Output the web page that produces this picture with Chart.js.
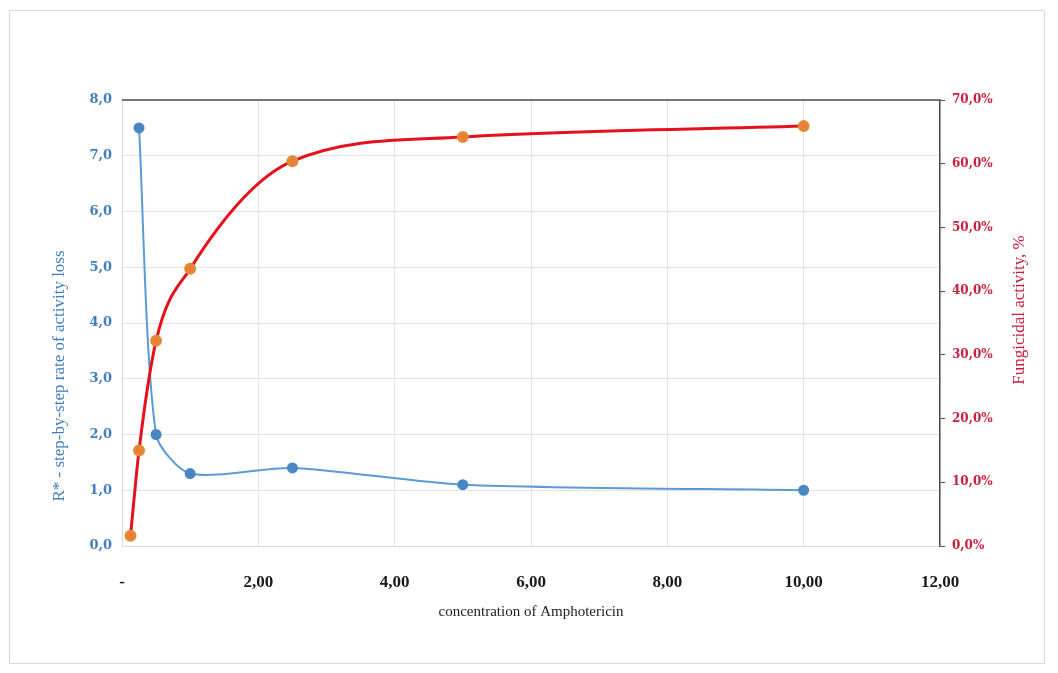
<!DOCTYPE html>
<html>
<head>
<meta charset="utf-8">
<script src="https://cdn.jsdelivr.net/npm/chart.js@4/dist/chart.umd.min.js"></script>
<style>
  body { margin: 0; background: #fff; }
  #wrap { position: relative; width: 1058px; height: 673px; }
  #frame { position: absolute; left: 9px; top: 10px; width: 1036px; height: 654px; border: 1px solid #d9d9d9; box-sizing: border-box; pointer-events: none; }
</style>
</head>
<body>
<div id="wrap">
  <canvas id="chart" width="1058" height="673"></canvas>
  <div id="frame"></div>
</div>
<script>
// concentrations of Amphotericin
const concRate = [0.25, 0.5, 1, 2.5, 5, 10];
const rateValues = [7.5, 2.0, 1.3, 1.4, 1.1, 1.0];

const concActivity = [0.125, 0.25, 0.5, 1, 2.5, 5, 10];
const activityValues = [1.6, 15.0, 32.2, 43.5, 60.4, 64.2, 65.9]; // %

const leftTitle = 'R* - step-by-step rate of activity loss';
const rightTitle = 'Fungicidal activity, %';
const xTitle = 'concentration of Amphotericin';

const comma = s => s.replace('.', ',');

const titles = {
  id: 'titles',
  afterDraw(chart) {
    const ctx = chart.ctx;
    const area = chart.chartArea;
    ctx.save();
    // top border line
    ctx.strokeStyle = '#4d4d4d';
    ctx.lineWidth = 1.5;
    ctx.beginPath();
    ctx.moveTo(area.left, area.top);
    ctx.lineTo(area.right, area.top);
    ctx.stroke();

    ctx.textAlign = 'center';
    ctx.textBaseline = 'middle';
    ctx.font = '17px "Liberation Serif", serif';

    ctx.fillStyle = '#3f7fbf';
    ctx.save();
    ctx.translate(60, 376);
    ctx.rotate(-Math.PI / 2);
    ctx.fillText(leftTitle, 0, 0);
    ctx.restore();

    ctx.fillStyle = '#c8203c';
    ctx.save();
    ctx.translate(1020, 310);
    ctx.rotate(-Math.PI / 2);
    ctx.fillText(rightTitle, 0, 0);
    ctx.restore();

    ctx.fillStyle = '#222';
    ctx.font = '15px "Liberation Serif", serif';
    ctx.fillText(xTitle, (area.left + area.right) / 2, 612);
    ctx.restore();
  }
};

new Chart(document.getElementById('chart').getContext('2d'), {
  type: 'scatter',
  data: {
    datasets: [
      {
        label: 'Fungicidal activity',
        data: concActivity.map((x, i) => ({ x, y: activityValues[i] })),
        yAxisID: 'y2',
        showLine: true,
        cubicInterpolationMode: 'monotone',
        borderColor: '#e3121c',
        borderWidth: 3,
        pointRadius: 4.5,
        pointBackgroundColor: '#ed7d31',
        pointBorderColor: '#e08a3a',
        order: 0,
      },
      {
        label: 'R*',
        data: concRate.map((x, i) => ({ x, y: rateValues[i] })),
        yAxisID: 'y',
        showLine: true,
        tension: 0.25,
        borderColor: '#5b9bd5',
        borderWidth: 2,
        pointRadius: 4.5,
        pointBackgroundColor: '#4a86c2',
        pointBorderColor: '#4a86c2',
        order: 1,
      },
    ],
  },
  options: {
    responsive: false,
    animation: false,
    layout: { padding: { top: 100, left: 0, right: 0, bottom: 0 } },
    plugins: { legend: { display: false }, tooltip: { enabled: false } },
    scales: {
      x: {
        type: 'linear',
        min: 0,
        max: 12,
        ticks: {
          stepSize: 2,
          padding: 26,
          color: '#1a1a1a',
          font: { family: '"Liberation Serif", serif', size: 17, weight: 'bold' },
          callback: v => (v === 0 ? '-' : comma(v.toFixed(2))),
        },
        grid: { color: '#e3e3e3', drawTicks: false },
        border: { color: '#d9d9d9' },
        afterFit: s => { s.height = 127; },
      },
      y: {
        position: 'left',
        min: 0,
        max: 8,
        ticks: {
          stepSize: 1,
          padding: 10,
          color: '#3f7fbf',
          font: { family: '"DejaVu Serif", serif', size: 13, weight: 'bold' },
          callback: v => comma(v.toFixed(1)),
        },
        grid: { color: '#e3e3e3', drawTicks: false },
        border: { color: '#d9d9d9' },
        afterFit: s => { s.width = 122; },
      },
      y2: {
        position: 'right',
        min: 0,
        max: 70,
        ticks: {
          stepSize: 10,
          padding: 7,
          color: '#c8203c',
          font: { family: '"DejaVu Serif", serif', size: 12, weight: 'bold' },
          callback: v => comma(v.toFixed(1)) + '%',
        },
        grid: { drawOnChartArea: false, drawTicks: true, tickLength: 5, color: '#4d4d4d' },
        border: { color: '#4d4d4d', width: 1.5 },
        afterFit: s => { s.width = 118; },
      },
    },
  },
  plugins: [titles],
});
</script>
</body>
</html>
